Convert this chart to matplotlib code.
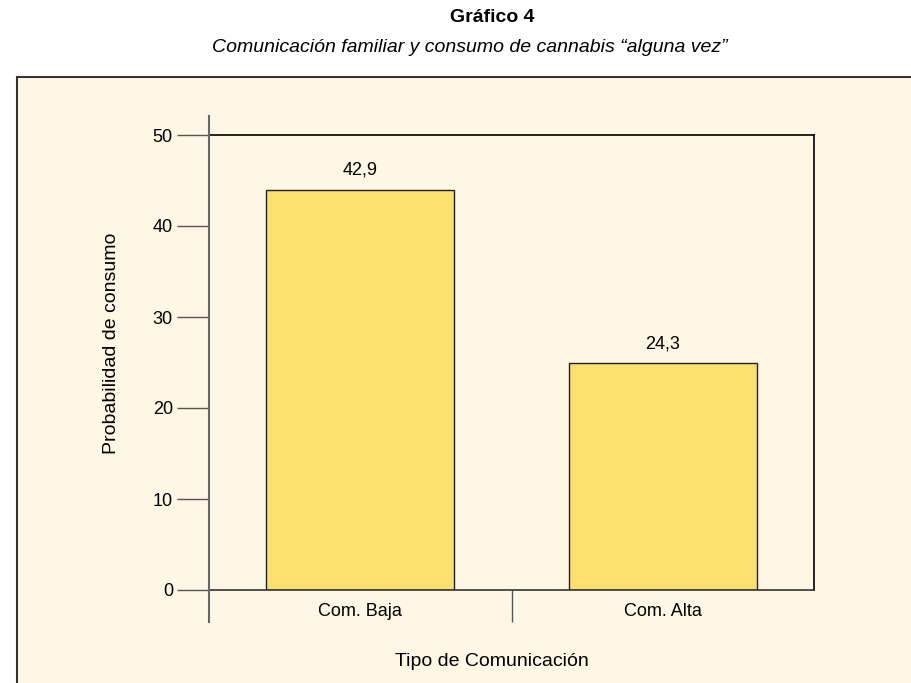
import matplotlib
matplotlib.use("Agg")
import matplotlib.pyplot as plt
from matplotlib.patches import Rectangle
from matplotlib import font_manager

categories = ["Com. Baja", "Com. Alta"]
bar_heights = [44.0, 24.9]
value_labels = ["42,9", "24,3"]
yticks = [0, 10, 20, 30, 40, 50]

names = {f.name for f in font_manager.fontManager.ttflist}
fam = "Liberation Sans Narrow" if "Liberation Sans Narrow" in names else "Liberation Sans"
plt.rcParams['font.family'] = [fam, 'DejaVu Sans']

bg = "#FEF7E5"
bar_color = "#FAE06E"

fig = plt.figure(figsize=(9.11, 6.83), dpi=100)
fig.patch.set_facecolor("white")
panel = Rectangle((17/911, -0.1), 1.0, 0.1 + 1 - 77/683, transform=fig.transFigure,
                  facecolor=bg, edgecolor="#333333", linewidth=1.5, zorder=-10)
fig.patches.append(panel)

fig.text(492/911, 1 - 17/683, "Gráfico 4", ha="center", va="center",
         fontsize=14, fontweight="bold")
fig.text(470/911, 1 - 48/683, "Comunicación familiar y consumo de cannabis \u201calguna vez\u201d",
         ha="center", va="center", fontsize=14, style="italic")

ax = fig.add_axes([209/911, 1 - 590/683, (814 - 209)/911, (590 - 135)/683])
ax.set_zorder(1)
ax.set_facecolor(bg)
x = list(range(len(categories)))
ax.bar(x, bar_heights, width=0.62, color=bar_color, edgecolor="#222222", linewidth=1.0, zorder=2)
for xi, h, lab in zip(x, bar_heights, value_labels):
    ax.annotate(lab, (xi, h), xytext=(0, 8), textcoords="offset points",
                ha="center", va="bottom", fontsize=13)

ax.set_xlim(-0.5, 1.5)
ax.set_ylim(0, 50)
ax.set_yticks(yticks)
ax.set_yticklabels([str(v) for v in yticks], fontsize=13)
ax.tick_params(axis="y", direction="out", length=23, width=1.0, color="#555555", pad=3)
ax.set_xticks(x)
ax.set_xticklabels(categories, fontsize=13)
ax.tick_params(axis="x", which="major", length=0, pad=9)
ax.set_xticks([0.5], minor=True)
ax.tick_params(axis="x", which="minor", direction="out", length=23, width=1.0, color="#555555")

ax.spines["left"].set_visible(False)
ax.plot([0, 0], [-32/455, 1 + 19/455], transform=ax.transAxes, clip_on=False,
        color="#666666", linewidth=1.5, zorder=3)
ax.spines["top"].set_color("black")
ax.spines["right"].set_color("black")
ax.spines["top"].set_linewidth(1.2)
ax.spines["right"].set_linewidth(1.2)
ax.spines["bottom"].set_color("#333333")
ax.spines["bottom"].set_linewidth(1.2)

fig.text(112/911, 1 - 343/683, "Probabilidad de consumo", rotation=90,
         ha="center", va="center", fontsize=14)
fig.text(492/911, 1 - 661/683, "Tipo de Comunicación", ha="center", va="center", fontsize=14)

fig.savefig("out.png", dpi=100, facecolor=fig.get_facecolor())
